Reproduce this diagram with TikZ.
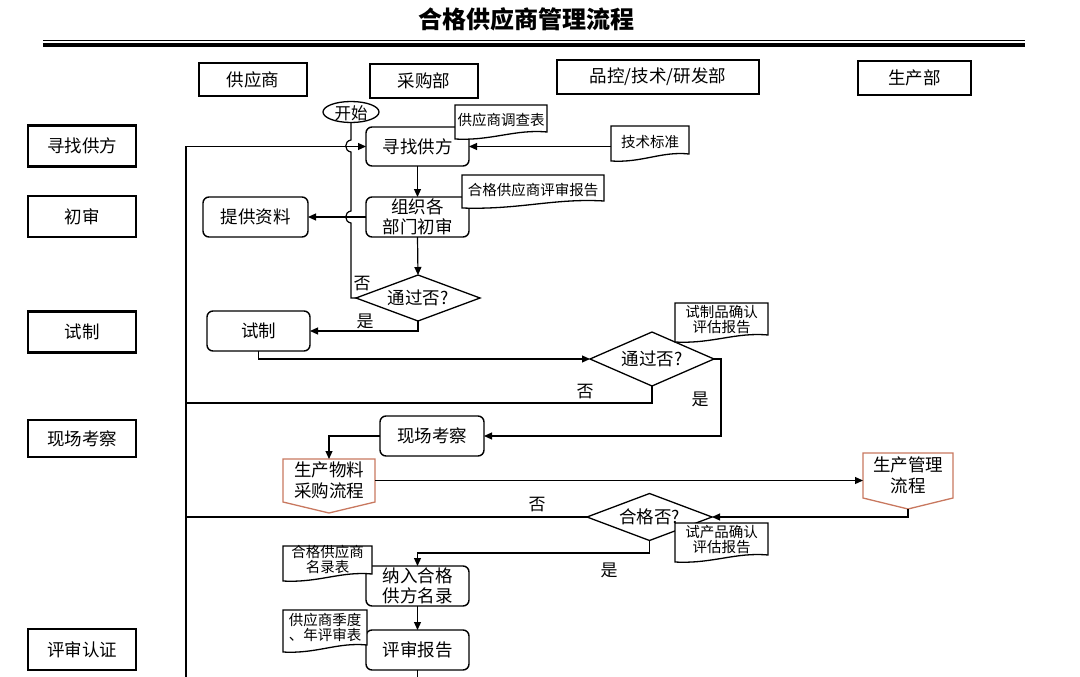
\documentclass[tikz,border=0pt]{standalone}
\usepackage{fontspec}
\setmainfont{Noto Sans CJK SC}
\usetikzlibrary{arrows.meta,calc}
\definecolor{offc}{RGB}{200,120,95}
\newcommand{\docdraw}[1]{%
  \draw[docline] (#1.north west) -- (#1.north east) -- ($(#1.south east)+(0,-3)$)
    .. controls ($(#1.south east)!0.35!(#1.south west)+(0,-6)$) and ($(#1.south east)!0.6!(#1.south west)+(0,6)$)
    .. ($(#1.south west)+(0,4)$) -- cycle;}
\newcommand{\offdraw}[2]{%
  \draw[offline] (#1.north west) -- (#1.north east) -- (#1.south east) -- ($(#1.south)+(0,#2)$) -- (#1.south west) -- cycle;}
\newcommand{\diadraw}[1]{%
  \draw[shapeline] (#1.north) -- (#1.east) -- (#1.south) -- (#1.west) -- cycle;}
\begin{document}
\begin{tikzpicture}[x=1pt,y=-1pt,
  every node/.style={inner sep=0pt, outer sep=0pt},
  conn/.style={line width=1.2pt, draw=black},
  arr/.style={-{Triangle[length=8pt,width=7pt]}},
  hdr/.style={draw, line width=1.5pt, font=\fontsize{17.5}{20}\selectfont},
  stage/.style={draw, line width=2.2pt, minimum width=108pt, font=\fontsize{17.5}{20}\selectfont},
  proc/.style={draw, rounded corners=6pt, line width=1.4pt, fill=white, minimum width=103pt, minimum height=40pt, align=center, font=\fontsize{17.5}{20.5}\selectfont},
  shapeline/.style={line width=1.3pt},
  docline/.style={line width=1.3pt, fill=white},
  offline/.style={line width=1.3pt, draw=offc},
  txt/.style={font=\fontsize{17.5}{20.5}\selectfont, align=center},
  doctxt/.style={font=\fontsize{14.5}{15}\selectfont, align=center},
  lbl/.style={font=\fontsize{17}{20}\selectfont},
]
\useasboundingbox (0,0) rectangle (1080,677);

% title and rule
\node[font=\fontsize{24}{26}\selectfont\bfseries] (title) at (526,19) {合格供应商管理流程};
\draw[line width=1.3pt] (43,40.7) -- (1025,40.7);
\draw[line width=4pt] (43,45) -- (1025,45);

% lane headers
\node[hdr, minimum width=108pt, minimum height=33pt] (h1) at (253,79.5) {供应商};
\node[hdr, minimum width=108pt, minimum height=34pt] (h2) at (424,81) {采购部};
\node[hdr, minimum width=202pt, minimum height=34pt] (h3) at (658,77) {品控/技术/研发部};
\node[hdr, minimum width=113pt, minimum height=34pt] (h4) at (914.5,78) {生产部};

% stage labels
\node[stage, minimum height=41pt] (s1) at (82,146) {寻找供方};
\node[stage, minimum height=41pt] (s2) at (82,216.5) {初审};
\node[stage, minimum height=41pt] (s3) at (82,332) {试制};
\node[stage, minimum height=37pt] (s4) at (82,438.5) {现场考察};
\node[stage, minimum height=41pt] (s5) at (82,649.5) {评审认证};

% start
\node[minimum width=56pt, minimum height=20pt] (st) at (351,112) {};
\draw[shapeline, fill=white] (st.center) ellipse [x radius=28pt, y radius=10.5pt];
\node[font=\fontsize{16.5}{18}\selectfont] (stt) at ($(st)+(0,1)$) {开始};

% process boxes
\node[proc, minimum height=39pt] (xz) at (417.5,146.5) {寻找供方};
\node[proc] (csh) at (417.5,217) {组织各\\部门初审};
\node[proc, minimum width=105pt] (tg) at (255.5,217) {提供资料};
\node[proc] (sz) at (258.5,331) {试制};
\node[proc, minimum width=104pt] (xc) at (432,436) {现场考察};
\node[proc] (nr) at (417.5,586) {纳入合格\\供方名录};
\node[proc] (ps) at (417.5,650) {评审报告};

% decisions
\node[txt, minimum width=124pt, minimum height=46pt] (d1) at (418,298) {通过否?};
\diadraw{d1}
\node[txt, minimum width=124pt, minimum height=54pt] (d2) at (652,359) {通过否?};
\diadraw{d2}
\node[txt, minimum width=125pt, minimum height=47pt] (d3) at (649.5,517) {合格否?};
\diadraw{d3}

% off-page connectors
\node[txt, minimum width=92pt, minimum height=43pt] (wl) at (329,480.5) {生产物料\\采购流程};
\offdraw{wl}{11}
\node[txt, minimum width=90pt, minimum height=45pt] (gl) at (908,475.5) {生产管理\\流程};
\offdraw{gl}{11}

% documents
\node[minimum width=92pt, minimum height=30pt] (dA) at (501,120) {};
\docdraw{dA}
\node[doctxt] (dAt) at (dA) {供应商调查表};
\node[minimum width=142pt, minimum height=29pt] (dB) at (533,189.5) {};
\docdraw{dB}
\node[doctxt] (dBt) at (dB) {合格供应商评审报告};
\node[minimum width=78pt, minimum height=31pt] (dC) at (650,141.5) {};
\docdraw{dC}
\node[doctxt] (dCt) at (dC) {技术标准};
\node[minimum width=93pt, minimum height=35pt] (dD) at (721.5,320.5) {};
\docdraw{dD}
\node[doctxt] (dDt) at ($(dD)+(0,-1)$) {试制品确认\\评估报告};
\node[minimum width=93pt, minimum height=35pt] (dE) at (721.5,540.5) {};
\docdraw{dE}
\node[doctxt] (dEt) at ($(dE)+(0,-1)$) {试产品确认\\评估报告};
\node[minimum width=89pt, minimum height=31pt] (dF) at (327.5,561.5) {};
\docdraw{dF}
\node[doctxt] (dFt) at ($(dF)+(0,-2)$) {合格供应商\\名录表};
\node[minimum width=84pt, minimum height=38pt] (dG) at (325,629) {};
\docdraw{dG}
\node[doctxt] (dGt) at ($(dG)+(0,-2)$) {供应商季度\\、年评审表};

% junction coordinates
\coordinate (vb) at (186,677);
\coordinate (j1) at (186,403);
\coordinate (j2) at (186,517);
\coordinate (pb) at (417.5,677);

% connectors
\draw[conn,arr] (vb) |- (xz.west);
\draw[conn,arr] (dC.west |- xz.east) -- (xz.east);
\draw[conn,arr] (xz.south) -- (csh.north);
\draw[conn,arr] (csh.west) -- (tg.east);
\draw[conn,arr] (csh.south) -- (d1.north);
\draw[conn] (st.south) -- (351,140) .. controls (344,141) and (344,151) .. (351,152)
  -- (351,211) .. controls (344,212) and (344,222) .. (351,223) |- (d1.west);
\draw[conn,arr] (d1.south) |- (sz.east);
\draw[conn,arr] (sz.south) |- (d2.west);
\draw[conn] (d2.south) |- (j1);
\draw[conn,arr] (d2.east) -- ++(7,0) |- (xc.east);
\draw[conn,arr] (xc.west) -| (wl.north);
\draw[conn,arr] (wl.east) -- (wl.east -| gl.west);
\draw[conn,arr] ($(gl.south)+(0,11)$) |- (d3.east);
\draw[conn] (d3.west) -- (j2);
\draw[conn,arr] (d3.south) -- ++(0,12.5) -| (nr.north);
\draw[conn,arr] (nr.south) -- (ps.north);
\draw[conn] (ps.south) -- (pb);

% branch labels
\node[lbl] (n1) at (362,284) {否};
\node[lbl] (y1) at (365,321) {是};
\node[lbl] (n2) at (585,392) {否};
\node[lbl] (y2) at (700,399) {是};
\node[lbl] (n3) at (537,505) {否};
\node[lbl] (y3) at (609,570) {是};
\end{tikzpicture}
\end{document}
